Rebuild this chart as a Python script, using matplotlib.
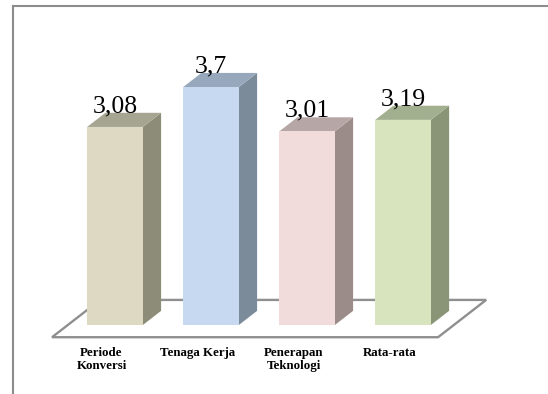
import matplotlib.pyplot as plt
from matplotlib.patches import Polygon
from matplotlib.lines import Line2D

categories = ['Periode\nKonversi', 'Tenaga Kerja', 'Penerapan\nTeknologi', 'Rata-rata']
values = [3.08, 3.7, 3.01, 3.19]
value_labels = ['3,08', '3,7', '3,01', '3,19']

front_colors = ['#DDD9C3', '#C6D9F1', '#F2DCDB', '#D7E4BD']
side_colors = ['#8C8C78', '#7B8B9A', '#9B8B89', '#8A9577']
top_colors = ['#A6A592', '#98A8BC', '#B6A6A5', '#A3B08F']

# fake 3d geometry (data units)
width = 0.58
dx, dy = 0.19, 0.22
floor_front, floor_back = -0.19, 0.39

fig = plt.figure(figsize=(5.48, 3.94), dpi=100)
ax = fig.add_axes([0, 0, 1, 1])
ax.set_xlim(-1.198, 4.51)
ax.set_ylim(-1.073, 5.054)
ax.axis('off')

# floor outline
fdx = (floor_back - floor_front) * dx / dy
x0 = -0.5 - 0.156
x1 = len(values) - 1 + 0.5 - 0.135
floor = Polygon([(x0, floor_front), (x1, floor_front),
                 (x1 + fdx, floor_back), (x0 + fdx, floor_back)],
                closed=True, facecolor='white', edgecolor='#8F8F8F', lw=1.7, zorder=1)
ax.add_patch(floor)

for i, v in enumerate(values):
    l, r = i - width / 2, i + width / 2
    front = Polygon([(l, 0), (r, 0), (r, v), (l, v)], closed=True,
                    facecolor=front_colors[i], edgecolor='none', zorder=3)
    side = Polygon([(r, 0), (r + dx, dy), (r + dx, v + dy), (r, v)], closed=True,
                   facecolor=side_colors[i], edgecolor='none', zorder=3)
    top = Polygon([(l, v), (r, v), (r + dx, v + dy), (l + dx, v + dy)], closed=True,
                  facecolor=top_colors[i], edgecolor='none', zorder=3)
    for p in (side, top, front):
        ax.add_patch(p)
    ax.text(i, v + dy + 0.01, value_labels[i], ha='center', va='baseline',
            fontsize=18.5, family='Liberation Serif', zorder=5)
    ax.text(i - 0.14, -0.34, categories[i], ha='center', va='top',
            fontsize=9.3, fontweight='bold', family='Liberation Serif',
            linespacing=1.15, zorder=5)

# chart frame (top and left only visible)
fig.add_artist(Line2D([13 / 548, 1], [1 - 6 / 394, 1 - 6 / 394],
                      transform=fig.transFigure, color='#8C8C8C', lw=1.5))
fig.add_artist(Line2D([13 / 548, 13 / 548], [1 - 6 / 394, 0],
                      transform=fig.transFigure, color='#8C8C8C', lw=1.5))

plt.savefig('out.png', dpi=100)
